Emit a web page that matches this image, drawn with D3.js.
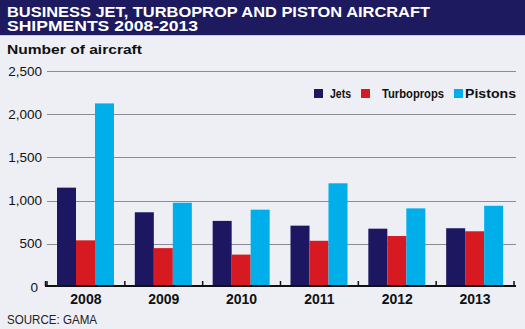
<!DOCTYPE html>
<html>
<head>
<meta charset="utf-8">
<script src="https://cdn.jsdelivr.net/npm/d3@7"></script>
<style>
  html, body { margin: 0; padding: 0; background: #edeff4; }
  svg { display: block; font-family: "Liberation Sans", Arial, sans-serif; }
</style>
</head>
<body>
<div id="chart"></div>
<script>
var width = 525;
var height = 329;

// data
const years = ["2008", "2009", "2010", "2011", "2012", "2013"];
const seriesNames = ["Jets", "Turboprops", "Pistons"];
const jets = [1150, 865, 765, 710, 675, 680];
const turboprops = [540, 450, 375, 535, 590, 645];
const pistons = [2125, 975, 895, 1200, 910, 940];
const yTicks = [0, 500, 1000, 1500, 2000, 2500];
const colors = ["#1d1762", "#d71a21", "#00aee9"];

const values = [jets, turboprops, pistons];
const rows = years.map((y, i) => ({ year: y, vals: seriesNames.map((s, j) => ({ key: s, v: values[j][i] })) }));

const svg = d3.select("#chart").append("svg")
    .attr("width", width)
    .attr("height", height);

svg.append("rect").attr("width", width).attr("height", height).attr("fill", "#edeff4");

// title bar
svg.append("rect").attr("x", 0).attr("y", 0).attr("width", width).attr("height", 35).attr("fill", "#1d1a60");
svg.append("line").attr("x1", 0).attr("x2", width).attr("y1", 35.5).attr("y2", 35.5).attr("stroke", "#c9cbe0");

const titleLines = [
    { t: "BUSINESS JET, TURBOPROP AND PISTON AIRCRAFT", y: 16.5, w: 423 },
    { t: "SHIPMENTS 2008-2013", y: 31, w: 191 }
];
svg.selectAll("text.title").data(titleLines).enter().append("text")
    .attr("class", "title")
    .attr("x", 7)
    .attr("y", d => d.y)
    .attr("fill", "#fff")
    .attr("font-weight", "bold")
    .attr("font-size", "14.5px")
    .attr("textLength", d => d.w)
    .attr("lengthAdjust", "spacingAndGlyphs")
    .text(d => d.t);

svg.append("text")
    .attr("x", 7).attr("y", 54.3)
    .attr("font-weight", "bold").attr("font-size", "13px")
    .attr("fill", "#111")
    .attr("textLength", 135).attr("lengthAdjust", "spacingAndGlyphs")
    .text("Number of aircraft");

// scales
const x0 = d3.scaleBand().domain(years).range([47, 514]).paddingInner(0).paddingOuter(0);
const x1 = d3.scaleBand().domain(seriesNames).range([10, 67]).padding(0);
const y = d3.scaleLinear().domain([0, 2500]).range([287, 71]);

// gridlines
svg.append("g").selectAll("line").data(yTicks.filter(d => d > 0)).enter().append("line")
    .attr("x1", 47).attr("x2", 516)
    .attr("y1", d => Math.round(y(d)) + 0.5)
    .attr("y2", d => Math.round(y(d)) + 0.5)
    .attr("stroke", "#8a8c92")
    .attr("stroke-width", 1);

// y labels
svg.append("g").selectAll("text").data(yTicks).enter().append("text")
    .attr("x", d => d === 0 ? 38 : 42)
    .attr("y", d => y(d) + 4.5)
    .attr("text-anchor", "end")
    .attr("font-size", "13.5px")
    .attr("fill", "#111")
    .text(d => d3.format(",")(d));

// bars
const groups = svg.append("g").selectAll("g").data(rows).enter().append("g")
    .attr("transform", d => "translate(" + x0(d.year) + ",0)");

groups.selectAll("rect").data(d => d.vals).enter().append("rect")
    .attr("x", d => x1(d.key))
    .attr("width", x1.bandwidth())
    .attr("y", d => y(d.v))
    .attr("height", d => y(0) - y(d.v))
    .attr("fill", (d, i) => colors[i]);

// baseline axis with upward ticks
const axis = d3.axisBottom(x0).tickSize(0).tickPadding(9);
const ax = svg.append("g").attr("transform", "translate(0,286)");
ax.append("line").attr("x1", 45).attr("x2", 516).attr("y1", 0).attr("y2", 0)
    .attr("stroke", "#111").attr("stroke-width", 2);
const bounds = years.map(yr => x0(yr)).concat([x0.range()[1]]);
ax.selectAll("line.tk").data(bounds).enter().append("line")
    .attr("class", "tk")
    .attr("x1", d => d).attr("x2", d => d)
    .attr("y1", 0).attr("y2", -5)
    .attr("stroke", "#111").attr("stroke-width", 1.5);
ax.append("line").attr("x1", 45.5).attr("x2", 45.5).attr("y1", 0).attr("y2", -5)
    .attr("stroke", "#111").attr("stroke-width", 1.5);

const xg = svg.append("g").attr("transform", "translate(0,287)").call(axis);
xg.select(".domain").remove();
xg.selectAll("text")
    .attr("font-family", "Liberation Sans, Arial, sans-serif")
    .attr("font-weight", "bold")
    .attr("font-size", "14px")
    .attr("fill", "#111")
    .attr("dy", "0.71em")
    .attr("y", 7);

// legend
const legendItems = [
    { name: "Jets", sx: 314, tx: 330, w: 21 },
    { name: "Turboprops", sx: 361, tx: 382, w: 62 },
    { name: "Pistons", sx: 454, tx: 465, w: 51 }
];
const lg = svg.append("g").selectAll("g").data(legendItems).enter().append("g");
lg.append("rect")
    .attr("x", d => d.sx).attr("y", 89)
    .attr("width", 9).attr("height", 9)
    .attr("fill", (d, i) => colors[i]);
lg.append("text")
    .attr("x", d => d.tx).attr("y", 97.5)
    .attr("font-weight", "bold").attr("font-size", "12px")
    .attr("fill", "#111")
    .attr("textLength", d => d.w).attr("lengthAdjust", "spacingAndGlyphs")
    .text(d => d.name);

svg.append("text")
    .attr("x", 7).attr("y", 323.5)
    .attr("font-size", "13.5px")
    .attr("fill", "#222")
    .attr("textLength", 90).attr("lengthAdjust", "spacingAndGlyphs")
    .text("SOURCE: GAMA");
</script>
</body>
</html>
